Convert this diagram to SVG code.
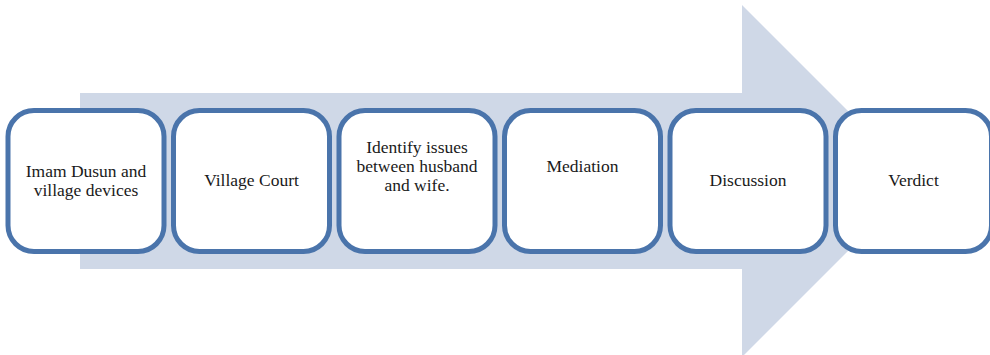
<svg xmlns="http://www.w3.org/2000/svg" width="990" height="355" viewBox="0 0 990 355">
<style>
.box{fill:#ffffff;stroke:#4a74ab;stroke-width:5}
.t{font-size:17.5px;fill:#1a1a1a;text-anchor:middle}
</style>
<rect width="990" height="355" fill="#ffffff"/>
<g id="arrow">
<polygon points="80,93 742,93 742,5 918,181 742,357 742,269 80,269" fill="#cfd8e7"/>
</g>
<g id="connectors"></g>
<g font-family="Liberation Serif, DejaVu Serif, serif">
<g id="n1"><rect class="box" x="8" y="110.5" width="156" height="141" rx="26"/>
<text class="t" x="86" y="177">Imam Dusun and</text><text class="t" x="86" y="196">village devices</text></g>
<g id="n2"><rect class="box" x="173.5" y="110.5" width="156" height="141" rx="26"/>
<text class="t" x="251.5" y="186">Village Court</text></g>
<g id="n3"><rect class="box" x="339" y="110.5" width="156" height="141" rx="26"/>
<text class="t" x="417" y="153">Identify issues</text><text class="t" x="417" y="172">between husband</text><text class="t" x="417" y="191">and wife.</text></g>
<g id="n4"><rect class="box" x="504.5" y="110.5" width="156" height="141" rx="26"/>
<text class="t" x="582.5" y="172">Mediation</text></g>
<g id="n5"><rect class="box" x="670" y="110.5" width="156" height="141" rx="26"/>
<text class="t" x="748" y="186">Discussion</text></g>
<g id="n6"><rect class="box" x="835.5" y="110.5" width="156" height="141" rx="26"/>
<text class="t" x="913.5" y="186">Verdict</text></g>
</g>
</svg>
